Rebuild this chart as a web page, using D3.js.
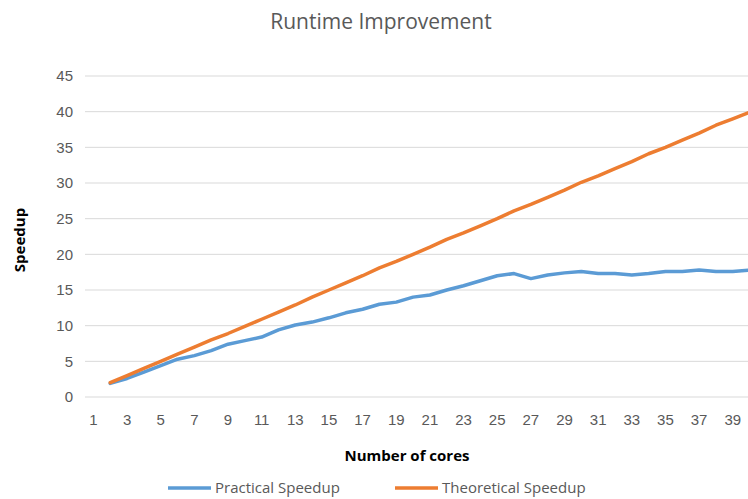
<!DOCTYPE html>
<html>
<head>
<meta charset="utf-8">
<script src="https://cdn.jsdelivr.net/npm/d3@7"></script>
<style>
  body { margin: 0; background: #fff; }
  svg { display: block; font-family: "Open Sans", "Liberation Sans", sans-serif; }
</style>
</head>
<body>
<svg id="chart" width="748" height="499"></svg>
<script>
// data
var cores = d3.range(1, 41);
var practical = [null, 1.9, 2.6, 3.5, 4.4, 5.3, 5.8, 6.5, 7.4, 7.9,
  8.4, 9.4, 10.1, 10.5, 11.1, 11.8, 12.3, 13.0, 13.3, 14.0,
  14.3, 15.0, 15.6, 16.3, 17.0, 17.3, 16.6, 17.1, 17.4, 17.6,
  17.3, 17.3, 17.1, 17.3, 17.6, 17.6, 17.8, 17.6, 17.6, 17.8];
var theoretical = [null, 2, 3, 4, 5, 6, 7, 8, 8.9, 9.9,
  10.9, 11.9, 12.9, 14.0, 15.0, 16.0, 17.0, 18.1, 19.0, 20.0,
  21.0, 22.1, 23.0, 24.0, 25.0, 26.1, 27.0, 28.0, 29.0, 30.1,
  31.0, 32.0, 33.0, 34.1, 35.0, 36.0, 37.0, 38.1, 39.0, 39.9];
var yTicks = d3.range(0, 50, 5);
var xTickLabels = cores.filter(function (d) { return d % 2 === 1; });

var series = [
  { name: "Practical Speedup", values: practical, color: "#5B9BD5" },
  { name: "Theoretical Speedup", values: theoretical, color: "#ED7D31" }
];

var plotLeft = 85, plotRight = 758, plotTop = 76, plotBottom = 397;

var svg = d3.select("#chart");

var x = d3.scaleBand()
  .domain(cores)
  .range([plotLeft, plotRight]);

var y = d3.scaleLinear()
  .domain([0, 45])
  .range([plotBottom, plotTop]);

// gridlines
svg.append("g")
  .selectAll("line")
  .data(yTicks)
  .enter().append("line")
  .attr("x1", plotLeft)
  .attr("x2", plotRight)
  .attr("y1", function (d) { return y(d); })
  .attr("y2", function (d) { return y(d); })
  .attr("stroke", "#d9d9d9")
  .attr("stroke-width", 1);

// y axis labels
var yAxis = svg.append("g")
  .attr("transform", "translate(" + (plotLeft - 12) + ",0)")
  .call(d3.axisLeft(y).tickValues(yTicks).tickSize(0).tickPadding(0));
yAxis.select(".domain").remove();
yAxis.selectAll("text")
  .attr("fill", "#595959")
  .style("font-size", "15px");

// x axis labels
var xAxis = svg.append("g")
  .attr("transform", "translate(0," + (plotBottom + 17) + ")")
  .call(d3.axisBottom(x).tickValues(xTickLabels).tickSize(0).tickPadding(0));
xAxis.select(".domain").remove();
xAxis.selectAll("text")
  .attr("fill", "#595959")
  .style("font-size", "15px");

var line = d3.line()
  .defined(function (d) { return d != null; })
  .x(function (d, i) { return x(cores[i]) + x.bandwidth() / 2; })
  .y(function (d) { return y(d); });

svg.selectAll(".series")
  .data(series)
  .enter().append("path")
  .attr("class", "series")
  .attr("d", function (s) { return line(s.values); })
  .attr("fill", "none")
  .attr("stroke", function (s) { return s.color; })
  .attr("stroke-width", 3.5)
  .attr("stroke-linejoin", "round")
  .attr("stroke-linecap", "round");

// title
svg.append("text")
  .attr("x", 381)
  .attr("y", 29)
  .attr("text-anchor", "middle")
  .attr("fill", "#595959")
  .style("font-size", "21px")
  .text("Runtime Improvement");

// axis titles
svg.append("text")
  .attr("transform", "translate(25,240) rotate(-90)")
  .attr("text-anchor", "middle")
  .attr("fill", "#000")
  .style("font-size", "15px")
  .style("font-weight", "bold")
  .text("Speedup");

svg.append("text")
  .attr("x", 407)
  .attr("y", 461)
  .attr("text-anchor", "middle")
  .attr("fill", "#000")
  .style("font-size", "15px")
  .style("font-weight", "bold")
  .text("Number of cores");

// legend
var legendX = [168, 395];
var legend = svg.selectAll(".legend")
  .data(series)
  .enter().append("g")
  .attr("class", "legend")
  .attr("transform", function (d, i) { return "translate(" + legendX[i] + ",488)"; });

legend.append("line")
  .attr("x1", 0)
  .attr("x2", 43)
  .attr("stroke", function (d) { return d.color; })
  .attr("stroke-width", 3.5);

legend.append("text")
  .attr("x", 47)
  .attr("dy", "0.35em")
  .attr("fill", "#595959")
  .style("font-size", "15px")
  .text(function (d) { return d.name; });
</script>
</body>
</html>
